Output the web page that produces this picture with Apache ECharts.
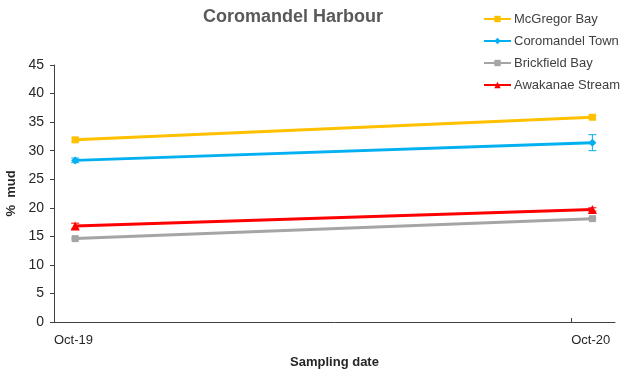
<!DOCTYPE html>
<html>
<head>
<meta charset="utf-8">
<script src="https://cdn.jsdelivr.net/npm/echarts@6/dist/echarts.min.js"></script>
<style>
  html, body { margin: 0; padding: 0; background: #fff; }
  #chart { width: 633px; height: 376px; }
</style>
</head>
<body>
<div id="chart"></div>
<script>
'use strict';

// sampling dates and axis range
var sampleDates = ['2019-10-16', '2020-10-16'];
var tickDates = ['2019-10-01', '2020-10-01'];
var axisStart = '2019-10-01';
var axisEnd = '2020-11-01';
var monthNames = ['Jan', 'Feb', 'Mar', 'Apr', 'May', 'Jun', 'Jul', 'Aug', 'Sep', 'Oct', 'Nov', 'Dec'];

// series (% mud)
var seriesNames = ['McGregor Bay', 'Coromandel Town', 'Brickfield Bay', 'Awakanae Stream'];
var mcgregor = [31.9, 35.85];
var coromandel = [28.3, 31.4];
var brickfield = [14.6, 18.1];
var awakanae = [16.8, 19.7];

// error (+/-)
var mcgregorErr = [0.3, 0.3];
var coromandelErr = [0.4, 1.4];
var brickfieldErr = [0.2, 0.2];
var awakanaeErr = [0.5, 0.3];

var yTicks = [0, 5, 10, 15, 20, 25, 30, 35, 40, 45];

var colors = ['#FFC000', '#00B0F0', '#A5A5A5', '#FF0000'];
var symbols = ['rect', 'diamond', 'rect', 'triangle'];
var symbolSizes = [7, 8, 7, 9];
var allValues = [mcgregor, coromandel, brickfield, awakanae];
var allErrors = [mcgregorErr, coromandelErr, brickfieldErr, awakanaeErr];

// days since axis start
function day(d) { return (Date.parse(d) - Date.parse(axisStart)) / 86400000; }
var tickDays = tickDates.map(day);

var chart = echarts.init(document.getElementById('chart'));

var series = [];
seriesNames.forEach(function (name, i) {
    series.push({
        name: name,
        type: 'line',
        data: sampleDates.map(function (d, j) { return [day(d), allValues[i][j]]; }),
        itemStyle: { color: colors[i] },
        lineStyle: { color: colors[i], width: 3 },
        symbol: symbols[i],
        symbolSize: symbolSizes[i],
        z: 3
    });
    // error bars
    series.push({
        type: 'custom',
        silent: true,
        z: 2,
        data: sampleDates.map(function (d, j) {
            return [day(d), allValues[i][j] - allErrors[i][j], allValues[i][j] + allErrors[i][j]];
        }),
        renderItem: function (params, api) {
            var lo = api.coord([api.value(0), api.value(1)]);
            var hi = api.coord([api.value(0), api.value(2)]);
            var w = 4;
            var style = { stroke: colors[i], lineWidth: 1 };
            return {
                type: 'group',
                children: [
                    { type: 'line', shape: { x1: lo[0], y1: lo[1], x2: hi[0], y2: hi[1] }, style: style },
                    { type: 'line', shape: { x1: lo[0] - w, y1: lo[1], x2: lo[0] + w, y2: lo[1] }, style: style },
                    { type: 'line', shape: { x1: hi[0] - w, y1: hi[1], x2: hi[0] + w, y2: hi[1] }, style: style }
                ]
            };
        }
    });
});

var option = {
    animation: false,
    backgroundColor: '#fff',
    textStyle: { fontFamily: 'Liberation Sans, Arial, sans-serif' },
    title: {
        text: 'Coromandel Harbour',
        left: 288,
        top: 3,
        textAlign: 'center',
        textStyle: { fontSize: 18, fontWeight: 'bold', color: '#595959' }
    },
    legend: {
        data: seriesNames,
        orient: 'vertical',
        left: 478,
        top: 7,
        itemWidth: 27,
        itemHeight: 8,
        itemGap: 8,
        textStyle: { fontSize: 13, color: '#404040', lineHeight: 14, padding: [0, 0, 0, -2] }
    },
    grid: { left: 54, right: 18, top: 65, bottom: 54, containLabel: false, outerBoundsMode: 'none' },
    xAxis: {
        type: 'value',
        min: 0,
        max: day(axisEnd),
        interval: tickDays[1],
        name: 'Sampling date',
        nameLocation: 'middle',
        nameGap: 34,
        nameTextStyle: { fontSize: 13, fontWeight: 'bold', color: '#262626' },
        axisLine: { lineStyle: { color: '#404040', width: 1 } },
        axisTick: { show: true, inside: true, length: 4, lineStyle: { color: '#404040' } },
        axisLabel: {
            align: 'left',
            margin: 12,
            fontSize: 13,
            color: '#262626',
            showMaxLabel: false,
            formatter: function (v) {
                var k = tickDays.indexOf(v);
                if (k < 0) return '';
                var d = new Date(tickDates[k]);
                return monthNames[d.getUTCMonth()] + '-' + String(d.getUTCFullYear()).slice(2);
            }
        },
        splitLine: { show: false }
    },
    yAxis: {
        type: 'value',
        min: yTicks[0],
        max: yTicks[yTicks.length - 1],
        interval: 5,
        name: '%  mud',
        nameLocation: 'middle',
        nameGap: 22,
        nameRotate: 90,
        nameTextStyle: { fontSize: 13, fontWeight: 'bold', color: '#262626' },
        axisLine: { show: true, lineStyle: { color: '#404040', width: 1 } },
        axisTick: { show: true, length: 4, lineStyle: { color: '#404040' } },
        axisLabel: { fontSize: 14, color: '#262626', margin: 10 },
        splitLine: { show: false }
    },
    series: series
};

chart.setOption(option);
</script>
</body>
</html>
